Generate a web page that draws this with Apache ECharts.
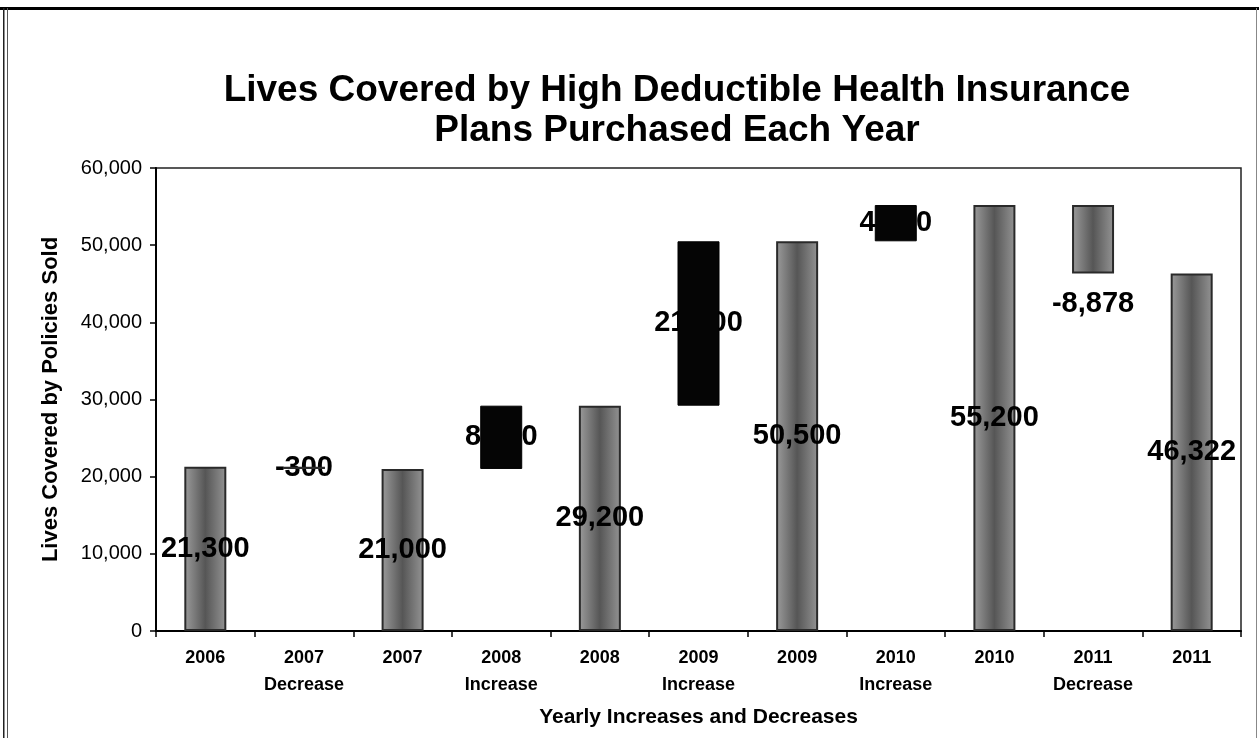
<!DOCTYPE html>
<html>
<head>
<meta charset="utf-8">
<script src="https://cdn.jsdelivr.net/npm/echarts@6/dist/echarts.min.js"></script>
<style>
  html, body { margin: 0; padding: 0; background: #fff; }
  #chart { width: 1259px; height: 738px; }
</style>
</head>
<body>
<div id="chart"></div>
<script>
// Waterfall of lives covered: yearly totals with the change between them
const categories = [
  '2006', '2007\nDecrease', '2007', '2008\nIncrease', '2008',
  '2009\nIncrease', '2009', '2010\nIncrease', '2010', '2011\nDecrease', '2011'
];
const totals    = [21300, null, 21000, null, 29200, null, 50500, null, 55200, null, 46322];
const increases = [null, null, null, 8200, null, 21300, null, 4700, null, null, null];
const decreases = [null, 300, null, null, null, null, null, null, null, 8878, null];
const yTicks = [0, 10000, 20000, 30000, 40000, 50000, 60000];

// invisible base under each change bar: start from the previous year's total
const base = categories.map((c, i) => {
  if (increases[i] != null) return totals[i - 1];
  if (decreases[i] != null) return totals[i - 1] - decreases[i];
  return null;
});

const fmt = v => Math.round(v).toLocaleString('en-US');
const toSeries = arr => arr.map(v => (v == null ? '-' : v));

// a large drop carries its label beneath the bar; the other change labels
// sit centred on their bar and are drawn underneath it
const isBigDrop = i => decreases[i] != null && decreases[i] > 1000;

const changeLabelPoints = [];
categories.forEach((c, i) => {
  if (increases[i] != null) {
    changeLabelPoints.push({ value: [i, base[i] + increases[i] / 2], text: fmt(increases[i]) });
  } else if (decreases[i] != null && !isBigDrop(i)) {
    changeLabelPoints.push({ value: [i, base[i] + decreases[i] / 2], text: '-' + fmt(decreases[i]) });
  }
});

const greyFill = {
  type: 'linear', x: 0, y: 0, x2: 1, y2: 0,
  colorStops: [
    { offset: 0, color: '#9c9c9c' },
    { offset: 0.5, color: '#565656' },
    { offset: 1, color: '#949494' }
  ]
};

const labelFont = {
  fontFamily: 'Liberation Sans, Arial, sans-serif',
  fontWeight: 'bold',
  fontSize: 29,
  color: '#000',
  textBorderWidth: 0,
  textBorderColor: 'transparent'
};

const decreaseData = decreases.map((v, i) => {
  if (v == null) return '-';
  if (isBigDrop(i)) return { value: v, label: { show: true, position: 'bottom', distance: 16 } };
  return v;
});

const chart = echarts.init(document.getElementById('chart'));
chart.setOption({
  animation: false,
  backgroundColor: '#fff',
  title: {
    text: 'Lives Covered by High Deductible Health Insurance\nPlans Purchased Each Year',
    left: 672,
    top: 66,
    textAlign: 'center',
    textStyle: {
      fontFamily: 'Liberation Sans, Arial, sans-serif',
      fontWeight: 'bold',
      fontSize: 37,
      lineHeight: 40,
      color: '#000'
    }
  },
  grid: {
    left: 156, right: 18, top: 168, bottom: 107,
    show: true, borderColor: '#222', borderWidth: 1.5, backgroundColor: '#fff'
  },
  xAxis: {
    type: 'category',
    data: categories,
    boundaryGap: true,
    axisLine: { lineStyle: { color: '#000', width: 2 } },
    axisTick: { show: true, interval: 0, length: 6, lineStyle: { color: '#000', width: 1.5 } },
    axisLabel: {
      interval: 0,
      margin: 14,
      fontFamily: 'Liberation Sans, Arial, sans-serif',
      fontWeight: 'bold',
      fontSize: 18,
      lineHeight: 27,
      color: '#000'
    },
    name: 'Yearly Increases and Decreases',
    nameLocation: 'middle',
    nameGap: 76,
    nameTextStyle: {
      fontFamily: 'Liberation Sans, Arial, sans-serif',
      fontWeight: 'bold',
      fontSize: 21,
      color: '#000'
    }
  },
  yAxis: {
    type: 'value',
    min: yTicks[0],
    max: yTicks[yTicks.length - 1],
    interval: yTicks[1] - yTicks[0],
    splitLine: { show: false },
    axisLine: { show: true, lineStyle: { color: '#000', width: 2 } },
    axisTick: { show: true, length: 6, lineStyle: { color: '#000', width: 1.5 } },
    axisLabel: {
      margin: 14,
      fontFamily: 'Liberation Sans, Arial, sans-serif',
      fontSize: 20,
      color: '#000',
      formatter: v => fmt(v)
    },
    name: 'Lives Covered by Policies Sold',
    nameLocation: 'middle',
    nameGap: 94,
    nameTextStyle: {
      fontFamily: 'Liberation Sans, Arial, sans-serif',
      fontWeight: 'bold',
      fontSize: 22,
      color: '#000'
    }
  },
  series: [
    {
      // change labels, kept below the bars so a bar hides what it overlaps
      name: 'Change label',
      type: 'scatter',
      z: 1,
      symbolSize: 0,
      silent: true,
      itemStyle: { opacity: 1 },
      data: changeLabelPoints.map(p => ({ value: p.value, text: p.text })),
      label: Object.assign({
        show: true,
        position: 'inside',
        formatter: p => p.data.text
      }, labelFont)
    },
    {
      name: 'base',
      type: 'bar',
      stack: 'w',
      z: 2,
      barWidth: 42,
      data: toSeries(base),
      itemStyle: { color: 'transparent' },
      emphasis: { disabled: true },
      silent: true
    },
    {
      name: 'Total',
      type: 'bar',
      stack: 'w',
      z: 2,
      barWidth: 42,
      data: toSeries(totals),
      itemStyle: { color: greyFill, borderColor: '#2a2a2a', borderWidth: 2 },
      label: Object.assign({ show: true, position: 'inside', formatter: p => fmt(p.value) }, labelFont)
    },
    {
      name: 'Increase',
      type: 'bar',
      stack: 'w',
      z: 2,
      barWidth: 42,
      data: toSeries(increases),
      itemStyle: { color: '#050505', borderColor: '#000', borderWidth: 1 }
    },
    {
      name: 'Decrease',
      type: 'bar',
      stack: 'w',
      z: 2,
      barWidth: 42,
      data: decreaseData,
      itemStyle: { color: greyFill, borderColor: '#2a2a2a', borderWidth: 2 },
      label: Object.assign({ show: false, formatter: p => '-' + fmt(p.value) }, labelFont)
    }
  ],
  graphic: [
    { type: 'rect', shape: { x: 0, y: 7, width: 1259, height: 3 }, style: { fill: '#000' } },
    { type: 'rect', shape: { x: 3, y: 8, width: 1.5, height: 730 }, style: { fill: '#222' } },
    { type: 'rect', shape: { x: 7, y: 8, width: 1, height: 730 }, style: { fill: '#555' } },
    { type: 'rect', shape: { x: 1256, y: 8, width: 1, height: 730 }, style: { fill: '#888' } }
  ]
});
</script>
</body>
</html>
